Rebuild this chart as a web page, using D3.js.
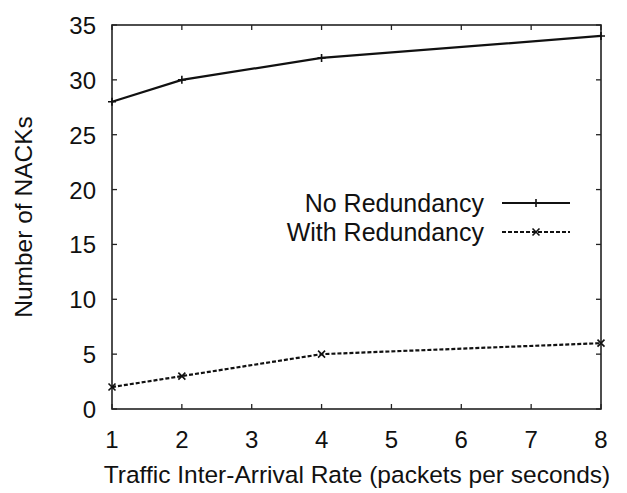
<!DOCTYPE html>
<html>
<head>
<meta charset="utf-8">
<script src="https://cdn.jsdelivr.net/npm/d3@7"></script>
<style>
  body { margin: 0; background: #fff; }
  svg text { font-family: "Liberation Sans", Arial, Helvetica, sans-serif; fill: #111; }
</style>
</head>
<body>
<div id="chart"></div>
<script>
// data
const rates = [1, 2, 4, 8];
const noRedundancy = [28, 30, 32, 34];
const withRedundancy = [2, 3, 5, 6];
const xTicks = [1, 2, 3, 4, 5, 6, 7, 8];
const yTicks = [0, 5, 10, 15, 20, 25, 30, 35];
const seriesNames = ["No Redundancy", "With Redundancy"];

const width = 627;
const height = 493;
const margin = { top: 25, right: 26, bottom: 84, left: 112 };

const svg = d3.select("#chart")
    .append("svg")
    .attr("width", width)
    .attr("height", height);

const x = d3.scaleLinear().domain([1, 8]).range([margin.left, width - margin.right]);
const y = d3.scaleLinear().domain([0, 35]).range([height - margin.bottom, margin.top]);

// inward ticks on all four sides (gnuplot style)
const tickLen = 5;
const axes = svg.append("g").attr("stroke", "#222").attr("stroke-width", 1.3);

axes.selectAll(".xb").data(xTicks).enter().append("line")
    .attr("x1", d => x(d)).attr("x2", d => x(d))
    .attr("y1", y(0)).attr("y2", y(0) - tickLen);
axes.selectAll(".xt").data(xTicks).enter().append("line")
    .attr("x1", d => x(d)).attr("x2", d => x(d))
    .attr("y1", y(35)).attr("y2", y(35) + tickLen);
axes.selectAll(".yl").data(yTicks).enter().append("line")
    .attr("x1", x(1)).attr("x2", x(1) + tickLen)
    .attr("y1", d => y(d)).attr("y2", d => y(d));
axes.selectAll(".yr").data(yTicks).enter().append("line")
    .attr("x1", x(8)).attr("x2", x(8) - tickLen)
    .attr("y1", d => y(d)).attr("y2", d => y(d));

svg.append("rect")
    .attr("x", x(1)).attr("y", y(35))
    .attr("width", x(8) - x(1)).attr("height", y(0) - y(35))
    .attr("fill", "none").attr("stroke", "#222").attr("stroke-width", 1.6);

// tick labels
svg.selectAll(".xlab").data(xTicks).enter().append("text")
    .attr("x", d => x(d)).attr("y", y(0) + 39)
    .attr("text-anchor", "middle").attr("font-size", 24)
    .text(d => d);
svg.selectAll(".ylab").data(yTicks).enter().append("text")
    .attr("x", x(1) - 16).attr("y", d => y(d) + 9)
    .attr("text-anchor", "end").attr("font-size", 24)
    .text(d => d);

// axis titles
svg.append("text")
    .attr("x", 357).attr("y", 483)
    .attr("text-anchor", "middle").attr("font-size", 24.5)
    .text("Traffic Inter-Arrival Rate (packets per seconds)");
svg.append("text")
    .attr("transform", `translate(32, ${(y(0) + y(35)) / 2}) rotate(-90)`)
    .attr("text-anchor", "middle").attr("font-size", 24.5)
    .text("Number of NACKs");

const line = d3.line()
    .x(d => x(d[0]))
    .y(d => y(d[1]));

function plusMark(g, cx, cy) {
    g.append("path")
        .attr("d", `M${cx - 4},${cy}H${cx + 4}M${cx},${cy - 4}V${cy + 4}`)
        .attr("stroke", "#111").attr("stroke-width", 1.6);
}
function crossMark(g, cx, cy) {
    g.append("path")
        .attr("d", `M${cx - 3.5},${cy - 3.5}L${cx + 3.5},${cy + 3.5}M${cx - 3.5},${cy + 3.5}L${cx + 3.5},${cy - 3.5}`)
        .attr("stroke", "#111").attr("stroke-width", 1.6);
}

const series = [
    { name: seriesNames[0], values: noRedundancy, dash: null, mark: plusMark },
    { name: seriesNames[1], values: withRedundancy, dash: "4,2", mark: crossMark }
];

const plot = svg.append("g");
series.forEach(s => {
    const pts = rates.map((r, i) => [r, s.values[i]]);
    plot.append("path")
        .datum(pts)
        .attr("d", line)
        .attr("fill", "none")
        .attr("stroke", "#111")
        .attr("stroke-width", 2.2)
        .attr("stroke-dasharray", s.dash);
    pts.forEach(p => s.mark(plot, x(p[0]), y(p[1])));
});

// legend
const legend = svg.append("g");
series.forEach((s, i) => {
    const ly = 203 + i * 29;
    legend.append("text")
        .attr("x", 484).attr("y", ly + 9)
        .attr("text-anchor", "end").attr("font-size", 25)
        .text(s.name);
    legend.append("line")
        .attr("x1", 502).attr("x2", 570)
        .attr("y1", ly).attr("y2", ly)
        .attr("stroke", "#111").attr("stroke-width", 2.2)
        .attr("stroke-dasharray", s.dash);
    s.mark(legend, 536, ly);
});
</script>
</body>
</html>
